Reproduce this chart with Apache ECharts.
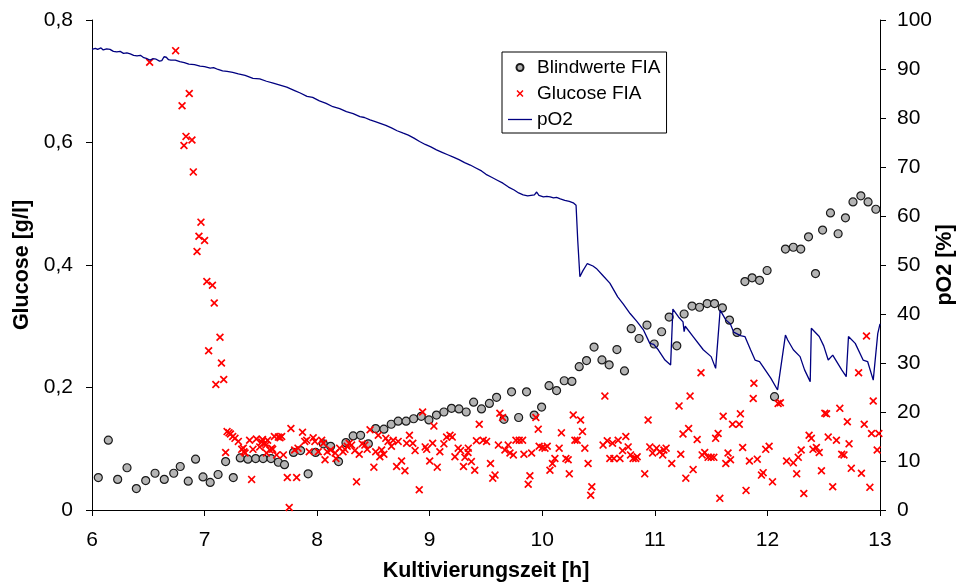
<!DOCTYPE html>
<html><head><meta charset="utf-8">
<script src="https://cdn.jsdelivr.net/npm/echarts@6/dist/echarts.min.js"></script>
<style>html,body{margin:0;padding:0;background:#fff}#c{width:960px;height:583px}</style>
</head><body><div id="c"></div>
<script>
// ---- data ----
const xTickLabels = ['6','7','8','9','10','11','12','13'];
const leftTickLabels = ['0','0,2','0,4','0,6','0,8'];
const rightTickLabels = ['0','10','20','30','40','50','60','70','80','90','100'];

const blindHours = [6.056,6.145,6.228,6.311,6.394,6.477,6.56,6.642,6.726,6.784,6.855,6.92,6.986,7.05,7.12,7.187,7.255,7.317,7.385,7.454,7.52,7.59,7.655,7.71,7.79,7.853,7.92,7.987,8.055,8.12,8.19,8.256,8.32,8.386,8.455,8.52,8.593,8.658,8.72,8.79,8.857,8.925,8.993,9.06,9.126,9.194,9.26,9.324,9.39,9.46,9.53,9.594,9.66,9.727,9.79,9.86,9.928,9.994,10.06,10.127,10.195,10.263,10.328,10.393,10.46,10.53,10.594,10.663,10.73,10.79,10.86,10.93,10.994,11.06,11.127,11.195,11.26,11.33,11.397,11.465,11.53,11.6,11.663,11.73,11.8,11.864,11.93,11.997,12.063,12.16,12.23,12.296,12.365,12.427,12.49,12.56,12.628,12.693,12.76,12.83,12.894,12.963];
const blindValues = [0.053,0.114,0.050,0.069,0.035,0.048,0.060,0.050,0.060,0.071,0.047,0.083,0.054,0.045,0.058,0.079,0.053,0.085,0.083,0.084,0.084,0.084,0.078,0.074,0.094,0.097,0.059,0.094,0.108,0.104,0.079,0.110,0.121,0.122,0.108,0.133,0.132,0.140,0.145,0.145,0.149,0.153,0.147,0.155,0.160,0.166,0.165,0.160,0.176,0.165,0.174,0.184,0.148,0.193,0.151,0.193,0.155,0.168,0.203,0.195,0.211,0.210,0.234,0.244,0.266,0.245,0.237,0.262,0.227,0.296,0.280,0.302,0.271,0.291,0.315,0.268,0.320,0.333,0.331,0.337,0.337,0.330,0.310,0.290,0.373,0.379,0.375,0.391,0.185,0.426,0.429,0.426,0.446,0.386,0.457,0.485,0.451,0.477,0.503,0.513,0.503,0.491];

const glucoseHours = [6.512,6.743,6.80,6.817,6.835,6.864,6.888,6.90,6.933,6.95,6.968,7.00,7.02,7.036,7.07,7.086,7.10,7.137,7.15,7.17,7.187,7.20,7.217,7.23,7.25,7.27,7.30,7.33,7.344,7.35,7.36,7.40,7.418,7.43,7.46,7.49,7.507,7.515,7.536,7.545,7.55,7.56,7.58,7.596,7.605,7.62,7.64,7.655,7.67,7.685,7.70,7.735,7.752,7.767,7.80,7.818,7.83,7.87,7.89,7.907,7.93,7.965,7.98,8.01,8.04,8.055,8.07,8.09,8.12,8.16,8.167,8.20,8.23,8.247,8.267,8.285,8.306,8.335,8.35,8.374,8.40,8.424,8.445,8.47,8.504,8.52,8.543,8.557,8.573,8.593,8.61,8.63,8.66,8.676,8.706,8.72,8.75,8.78,8.795,8.82,8.85,8.87,8.907,8.937,8.96,8.973,9.00,9.026,9.037,9.067,9.09,9.126,9.15,9.18,9.20,9.224,9.253,9.274,9.30,9.313,9.34,9.343,9.37,9.40,9.415,9.44,9.475,9.505,9.54,9.56,9.58,9.61,9.623,9.647,9.668,9.697,9.713,9.743,9.766,9.795,9.825,9.837,9.875,9.89,9.905,9.943,9.964,9.972,10.00,10.024,10.044,10.068,10.09,10.112,10.15,10.17,10.21,10.23,10.24,10.275,10.29,10.31,10.34,10.357,10.378,10.407,10.43,10.44,10.54,10.556,10.577,10.60,10.624,10.636,10.674,10.69,10.713,10.742,10.763,10.784,10.807,10.83,10.843,10.91,10.94,10.955,10.98,11.015,11.044,11.07,11.08,11.10,11.15,11.215,11.23,11.25,11.275,11.30,11.313,11.34,11.376,11.41,11.42,11.443,11.473,11.50,11.524,11.54,11.562,11.577,11.607,11.63,11.65,11.672,11.69,11.75,11.76,11.78,11.81,11.84,11.874,11.88,11.91,11.947,11.962,11.985,12.015,12.045,12.095,12.115,12.17,12.23,12.26,12.274,12.30,12.323,12.37,12.39,12.405,12.435,12.46,12.48,12.51,12.525,12.54,12.58,12.613,12.643,12.66,12.68,12.71,12.725,12.745,12.81,12.835,12.86,12.88,12.91,12.925,12.94,12.975,12.99];
const glucoseValues = [0.731,0.750,0.660,0.595,0.610,0.680,0.604,0.552,0.422,0.447,0.470,0.440,0.373,0.260,0.367,0.338,0.205,0.282,0.240,0.213,0.094,0.128,0.126,0.124,0.120,0.117,0.112,0.099,0.101,0.095,0.093,0.114,0.050,0.099,0.116,0.103,0.111,0.115,0.109,0.106,0.093,0.114,0.098,0.101,0.099,0.120,0.090,0.119,0.118,0.120,0.090,0.053,0.004,0.133,0.098,0.053,0.101,0.127,0.112,0.114,0.095,0.118,0.112,0.095,0.114,0.109,0.082,0.095,0.098,0.093,0.084,0.101,0.095,0.099,0.104,0.109,0.106,0.097,0.046,0.091,0.108,0.106,0.099,0.131,0.070,0.095,0.122,0.087,0.098,0.091,0.117,0.112,0.104,0.114,0.071,0.112,0.080,0.064,0.109,0.122,0.109,0.097,0.033,0.160,0.103,0.099,0.080,0.109,0.137,0.070,0.095,0.108,0.119,0.122,0.119,0.087,0.101,0.097,0.071,0.086,0.094,0.101,0.079,0.065,0.113,0.140,0.114,0.112,0.076,0.052,0.057,0.106,0.158,0.151,0.098,0.106,0.093,0.090,0.114,0.114,0.114,0.091,0.042,0.056,0.093,0.151,0.132,0.104,0.102,0.101,0.104,0.065,0.076,0.084,0.101,0.126,0.084,0.082,0.059,0.155,0.114,0.114,0.147,0.128,0.101,0.076,0.024,0.038,0.106,0.186,0.113,0.084,0.109,0.084,0.114,0.084,0.097,0.120,0.103,0.090,0.084,0.084,0.087,0.059,0.147,0.103,0.093,0.101,0.095,0.090,0.098,0.101,0.076,0.170,0.091,0.124,0.052,0.133,0.186,0.066,0.115,0.224,0.090,0.094,0.086,0.086,0.086,0.117,0.125,0.019,0.153,0.076,0.093,0.082,0.140,0.140,0.157,0.102,0.032,0.080,0.182,0.207,0.083,0.057,0.061,0.099,0.104,0.046,0.174,0.175,0.080,0.077,0.059,0.086,0.098,0.027,0.122,0.117,0.099,0.102,0.094,0.064,0.158,0.157,0.119,0.038,0.114,0.166,0.091,0.090,0.144,0.108,0.068,0.224,0.060,0.140,0.284,0.037,0.125,0.178,0.098,0.125];

const po2Hours = [6.00,6.03,6.05,6.08,6.10,6.13,6.16,6.19,6.22,6.25,6.28,6.31,6.34,6.37,6.40,6.43,6.46,6.49,6.515,6.54,6.57,6.60,6.62,6.64,6.66,6.68,6.70,6.74,6.78,6.82,6.86,6.91,6.96,7.00,7.05,7.08,7.12,7.16,7.20,7.25,7.30,7.36,7.43,7.49,7.55,7.61,7.67,7.73,7.80,7.85,7.91,7.96,8.02,8.08,8.14,8.20,8.26,8.32,8.38,8.42,8.47,8.51,8.56,8.61,8.66,8.71,8.765,8.81,8.86,8.91,8.96,9.01,9.06,9.11,9.16,9.21,9.26,9.31,9.36,9.41,9.46,9.50,9.55,9.60,9.65,9.70,9.75,9.79,9.83,9.87,9.90,9.93,9.95,9.97,10.01,10.04,10.07,10.10,10.127,10.16,10.20,10.24,10.275,10.30,10.315,10.334,10.36,10.40,10.45,10.48,10.54,10.60,10.67,10.72,10.78,10.84,10.90,10.955,10.99,11.03,11.09,11.14,11.16,11.21,11.25,11.26,11.27,11.34,11.43,11.50,11.54,11.58,11.63,11.67,11.70,11.76,11.80,11.85,11.89,11.93,11.98,12.03,12.09,12.16,12.18,12.23,12.29,12.33,12.38,12.39,12.46,12.50,12.54,12.58,12.66,12.70,12.72,12.78,12.85,12.89,12.94,12.98,13.00];
const po2Values = [94.0,94.2,94.0,94.3,93.9,94.1,94.0,93.6,93.5,93.6,93.2,93.3,93.1,92.8,92.7,92.8,92.3,92.1,91.8,92.1,92.0,91.6,91.7,92.5,92.4,91.9,91.8,91.8,91.5,91.3,91.0,90.9,90.6,90.5,90.2,90.3,89.9,89.6,89.5,89.3,89.0,88.7,88.1,88.0,87.5,87.1,86.7,86.3,85.6,85.1,84.4,84.2,83.5,83.0,82.3,81.9,81.3,80.9,80.3,80.1,79.6,79.3,78.9,78.5,78.0,77.4,76.9,76.5,75.9,75.2,74.6,74.1,73.5,73.0,72.5,72.0,71.5,70.9,70.4,69.8,69.2,68.5,67.9,67.3,66.7,65.9,65.3,64.7,64.3,64.1,64.2,64.3,64.9,64.2,63.9,64.0,63.9,63.7,63.8,63.5,63.2,63.0,62.7,62.2,55.0,47.6,48.8,50.3,49.8,49.3,47.8,46.3,43.5,42.0,40.1,38.5,36.7,34.0,33.8,32.7,30.6,29.6,41.0,39.4,38.4,36.4,37.5,35.4,32.7,31.3,28.9,40.8,38.8,38.0,36.3,35.6,35.4,32.7,30.6,30.3,28.6,26.9,24.5,35.7,34.7,32.7,31.3,28.6,26.2,37.1,35.4,33.5,30.6,31.6,28.6,27.2,35.4,34.0,30.6,30.3,26.5,36.0,38.0];

const zip = (a, b) => a.map((v, i) => [v, b[i]]);
const FONT = 'Liberation Sans, Arial, sans-serif';
const crossPath = 'path://M1.5,0L5,3.5L8.5,0L10,1.5L6.5,5L10,8.5L8.5,10L5,6.5L1.5,10L0,8.5L3.5,5L0,1.5Z';
const lineIcon = 'path://M0,0L24,0L24,1.3L0,1.3Z';

const chart = echarts.init(document.getElementById('c'), null, {renderer: 'canvas'});
chart.setOption({
  backgroundColor: '#fff',
  animation: false,
  textStyle: {fontFamily: FONT},
  grid: {left: 92, right: 80, top: 20, bottom: 73, containLabel: false, outerBoundsMode: 'none'},
  legend: {
    orient: 'vertical', left: 502, top: 52,
    borderColor: '#000', borderWidth: 1, padding: [6, 6, 4, 6],
    itemGap: 7, itemWidth: 24, itemHeight: 7,
    textStyle: {fontFamily: FONT, fontSize: 19, color: '#000', lineHeight: 18},
    data: [
      {name: 'Blindwerte FIA', icon: 'circle'},
      {name: 'Glucose FIA', icon: crossPath},
      {name: 'pO2', icon: lineIcon, itemStyle: {color: '#000080'}}
    ]
  },
  xAxis: {
    type: 'value', min: 6, max: 13, interval: 1,
    name: 'Kultivierungszeit [h]', nameLocation: 'middle', nameGap: 50, nameMoveOverlap: false,
    nameTextStyle: {fontFamily: FONT, fontSize: 21.5, fontWeight: 'bold', color: '#000'},
    axisLine: {lineStyle: {color: '#000', width: 1}},
    axisTick: {show: true, inside: false, length: 6, lineStyle: {color: '#000'}},
    axisLabel: {fontFamily: FONT, fontSize: 21, color: '#000', margin: 20,
      formatter: (v) => xTickLabels[Math.round(v - 6)]},
    splitLine: {show: false}
  },
  yAxis: [{
    type: 'value', min: 0, max: 0.8, interval: 0.2, position: 'left',
    name: 'Glucose [g/l]', nameLocation: 'middle', nameGap: 59, nameRotate: 90, nameMoveOverlap: false,
    nameTextStyle: {fontFamily: FONT, fontSize: 21.5, fontWeight: 'bold', color: '#000'},
    axisLine: {show: true, lineStyle: {color: '#000', width: 1}},
    axisTick: {show: true, inside: false, length: 6, lineStyle: {color: '#000'}},
    axisLabel: {fontFamily: FONT, fontSize: 21, color: '#000', margin: 19,
      formatter: (v) => leftTickLabels[Math.round(v / 0.2)]},
    splitLine: {show: false}
  }, {
    type: 'value', min: 0, max: 100, interval: 10, position: 'right',
    name: 'pO2 [%]', nameLocation: 'middle', nameGap: 54, nameRotate: 90, nameMoveOverlap: false,
    nameTextStyle: {fontFamily: FONT, fontSize: 21.5, fontWeight: 'bold', color: '#000'},
    axisLine: {show: true, lineStyle: {color: '#000', width: 1}},
    axisTick: {show: true, inside: false, length: 6, lineStyle: {color: '#000'}},
    axisLabel: {fontFamily: FONT, fontSize: 21, color: '#000', margin: 17,
      formatter: (v) => rightTickLabels[Math.round(v / 10)]},
    splitLine: {show: false}
  }],
  series: [{
    name: 'Blindwerte FIA', type: 'scatter', yAxisIndex: 0,
    symbol: 'circle', symbolSize: 8,
    itemStyle: {color: '#b4b4b4', borderColor: '#1a1a1a', borderWidth: 1.2, opacity: 1},
    data: zip(blindHours, blindValues), z: 3
  }, {
    name: 'Glucose FIA', type: 'scatter', yAxisIndex: 0,
    symbol: crossPath, symbolSize: 8,
    itemStyle: {color: '#ff0000', opacity: 1},
    data: zip(glucoseHours, glucoseValues), z: 3
  }, {
    name: 'pO2', type: 'line', yAxisIndex: 1,
    symbol: 'none', showSymbol: false,
    lineStyle: {color: '#000080', width: 1.3},
    itemStyle: {color: '#000080'},
    data: zip(po2Hours, po2Values), z: 4
  }]
});
</script></body></html>
